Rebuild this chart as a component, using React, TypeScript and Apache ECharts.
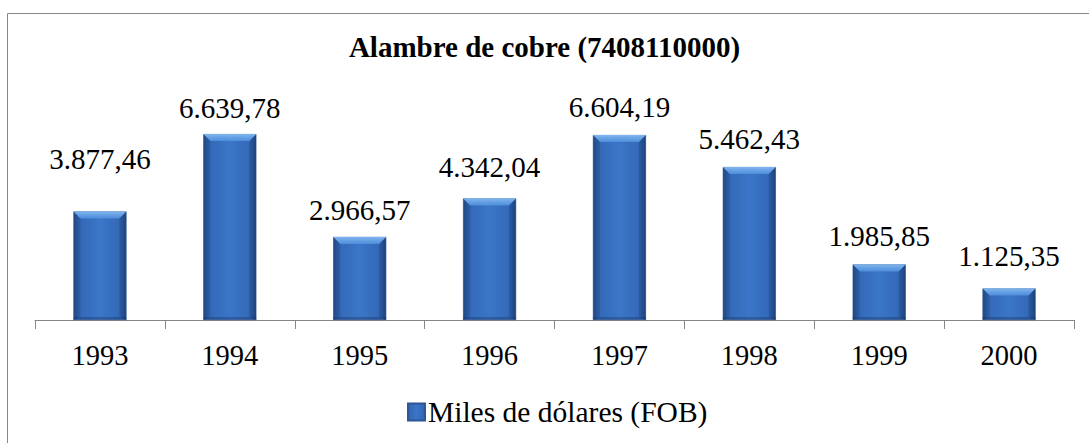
import React, { useEffect, useRef } from "react";
import * as echarts from "echarts";

const years = ["1993", "1994", "1995", "1996", "1997", "1998", "1999", "2000"];
const values = [3877.46, 6639.78, 2966.57, 4342.04, 6604.19, 5462.43, 1985.85, 1125.35];
const labelGaps = [38, 12, 12, 17, 14, 14, 14, 18];
const seriesName = "Miles de dólares (FOB)";
const titleText = "Alambre de cobre (7408110000)";

const fmt = (v: number) => {
  const [i, d] = v.toFixed(2).split(".");
  return i.replace(/\B(?=(\d{3})+(?!\d))/g, ".") + "," + d;
};

const BAR_W = 53;

export default function App() {
  const ref = useRef<HTMLDivElement>(null);
  useEffect(() => {
    if (!ref.current) return;
    const chart = echarts.init(ref.current, null, { renderer: "svg" });
    const font = "Liberation Serif";
    const barColor = new echarts.graphic.LinearGradient(0, 0, 1, 0, [
      { offset: 0, color: "#244f8e" },
      { offset: 0.1, color: "#3368b6" },
      { offset: 0.5, color: "#3b76c8" },
      { offset: 0.9, color: "#3368b6" },
      { offset: 1, color: "#224a86" },
    ]);
    chart.setOption({
      animation: false,
      backgroundColor: "#fff",
      textStyle: { fontFamily: font },
      title: {
        text: titleText,
        left: "center",
        top: 27,
        textStyle: { fontFamily: font, fontSize: 29, fontWeight: "bold", color: "#000" },
      },
      graphic: [
        {
          type: "rect",
          shape: { x: 7.5, y: 13.5, width: 1200, height: 600 },
          style: { fill: "none", stroke: "#868686", lineWidth: 1 },
          silent: true,
        },
      ],
      legend: {
        data: [seriesName],
        top: 392,
        left: 402,
        itemWidth: 17,
        itemHeight: 17,
        itemGap: 4,
        icon: "rect",
        textStyle: { fontFamily: font, fontSize: 29.5, color: "#000", padding: [0, 0, 0, -2] },
      },
      grid: { left: 35, right: 15, top: 124, bottom: 123, containLabel: false },
      xAxis: {
        type: "category",
        data: years,
        axisLine: { lineStyle: { color: "#868686", width: 1 } },
        axisTick: { show: true, length: 9, lineStyle: { color: "#868686" } },
        axisLabel: { fontFamily: font, fontSize: 28.5, color: "#000", margin: 21 },
      },
      yAxis: {
        type: "value",
        min: 0,
        max: 7000,
        show: false,
        splitLine: { show: false },
      },
      series: [
        {
          name: seriesName,
          type: "bar",
          data: values.map((v, i) => ({ value: v, label: { distance: labelGaps[i] } })),
          barWidth: BAR_W,
          itemStyle: { color: barColor, borderColor: "#2b5797", borderWidth: 0.5 },
          label: {
            show: true,
            position: "top",
            formatter: (p: any) => fmt(p.value),
            fontFamily: font,
            fontSize: 29,
            color: "#000",
          },
        },
        {
          name: "bevel",
          type: "custom",
          silent: true,
          z: 5,
          data: values.map((v, i) => [i, v]),
          encode: { x: 0, y: 1 },
          renderItem: (params: any, api: any) => {
            const top = api.coord([api.value(0), api.value(1)]);
            const base = api.coord([api.value(0), 0]);
            const x0 = top[0] - BAR_W / 2;
            const x1 = top[0] + BAR_W / 2;
            const y0 = top[1];
            const y1 = base[1];
            const b = 7;
            return {
              type: "group",
              children: [
                {
                  type: "polygon",
                  shape: { points: [[x0, y0], [x1, y0], [x1 - b, y0 + b], [x0 + b, y0 + b]] },
                  style: {
                    fill: new echarts.graphic.LinearGradient(0, 0, 0, 1, [
                      { offset: 0, color: "#7fb4ee" },
                      { offset: 1, color: "#4d8ddb" },
                    ]),
                  },
                },
                {
                  type: "polygon",
                  shape: { points: [[x0, y0], [x0 + b, y0 + b], [x0 + b, y1 - 3], [x0, y1]] },
                  style: { fill: "rgba(20,50,100,0.25)" },
                },
                {
                  type: "polygon",
                  shape: { points: [[x1, y0], [x1 - b, y0 + b], [x1 - b, y1 - 3], [x1, y1]] },
                  style: { fill: "rgba(20,50,100,0.3)" },
                },
                {
                  type: "rect",
                  shape: { x: x0, y: y1 - 3, width: BAR_W, height: 3 },
                  style: { fill: "rgba(20,50,100,0.35)" },
                },
              ],
            };
          },
        },
      ],
    });
    return () => chart.dispose();
  }, []);
  return <div ref={ref} style={{ width: 1089, height: 443, position: "absolute", left: 0, top: 0 }} />;
}
